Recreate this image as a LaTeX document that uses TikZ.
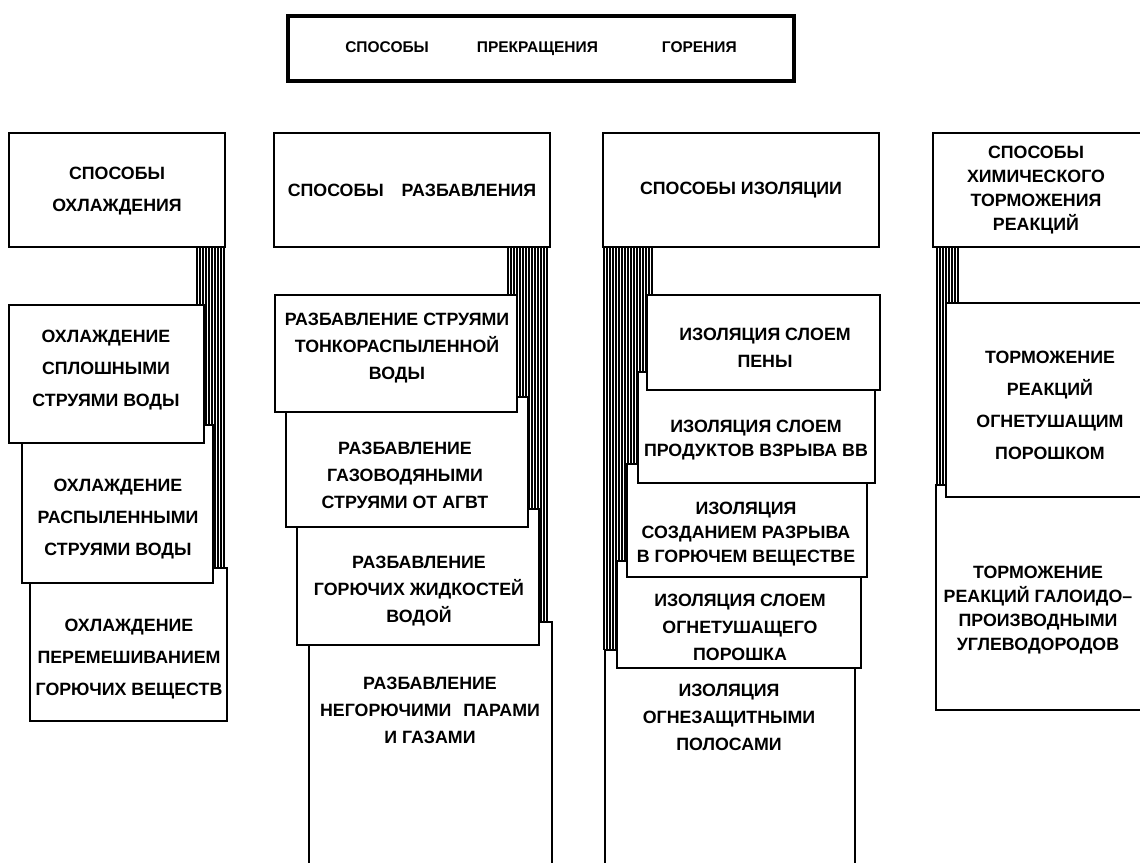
\documentclass[tikz,border=0pt]{standalone}
\usepackage{fontspec}
\setmainfont{Liberation Sans}

\tikzset{
  frame/.style={draw, fill=white, line width=1.6pt},
  lbl/.style={align=center, font=\fontsize{17.8}{27}\selectfont\bfseries},
  lbl wide/.style={lbl, font=\fontsize{17.8}{32}\selectfont\bfseries},
  lbl tight/.style={lbl, font=\fontsize{17.8}{24}\selectfont\bfseries},
  hatch/.style={line width=1.1pt},
}

\begin{document}
\begin{tikzpicture}[x=1pt, y=-1pt]
  \useasboundingbox (0,0) rectangle (1140,862);
  \clip (0,0) rectangle (1140,862);

  % striped bars behind the boxes
  \foreach \x in {197,200,...,224} \draw[hatch] (\x,247) -- (\x,568);
  \foreach \x in {508,511,...,549} \draw[hatch] (\x,247) -- (\x,622);
  \foreach \x in {604,607,...,654} \draw[hatch] (\x,247) -- (\x,650);
  \foreach \x in {937,940,...,960} \draw[hatch] (\x,247) -- (\x,485);

  % title
  \draw[line width=3.2pt] (288,16) rectangle (794,81);
  \node[lbl, font=\fontsize{15.5}{20}\selectfont\bfseries] (title) at (541,48.5)
    {СПОСОБЫ\hspace{48pt}ПРЕКРАЩЕНИЯ\hspace{64pt}ГОРЕНИЯ};

  % headers
  \draw[frame] (9,133) rectangle (225,247);
  \node[lbl wide] (cool) at (117,191) {СПОСОБЫ\\ОХЛАЖДЕНИЯ};
  \draw[frame] (274,133) rectangle (550,247);
  \node[lbl] (dilute) at (412,190) {СПОСОБЫ\hspace{18pt}РАЗБАВЛЕНИЯ};
  \draw[frame] (603,133) rectangle (879,247);
  \node[lbl] (isolate) at (741,190) {СПОСОБЫ ИЗОЛЯЦИИ};
  \draw[frame] (933,133) rectangle (1142,247);
  \node[lbl tight] (inhibit) at (1036,190.5) {СПОСОБЫ\\ХИМИЧЕСКОГО\\ТОРМОЖЕНИЯ\\РЕАКЦИЙ};

  % cooling
  \draw[frame] (30,568) rectangle (227,721);
  \node[lbl wide] (cool3) at (129,659) {ОХЛАЖДЕНИЕ\\ПЕРЕМЕШИВАНИЕМ\\ГОРЮЧИХ ВЕЩЕСТВ};
  \draw[frame] (22,425) rectangle (213,583);
  \node[lbl wide] (cool2) at (118,519) {ОХЛАЖДЕНИЕ\\РАСПЫЛЕННЫМИ\\СТРУЯМИ ВОДЫ};
  \draw[frame] (9,305) rectangle (204,443);
  \node[lbl wide] (cool1) at (106,370) {ОХЛАЖДЕНИЕ\\СПЛОШНЫМИ\\СТРУЯМИ ВОДЫ};

  % dilution
  \draw[frame] (309,622) rectangle (552,880);
  \node[lbl] (dil4) at (430,710) {РАЗБАВЛЕНИЕ\\НЕГОРЮЧИМИ\hspace{12pt}ПАРАМИ\\И ГАЗАМИ};
  \draw[frame] (297,509) rectangle (539,645);
  \node[lbl] (dil3) at (419,591) {РАЗБАВЛЕНИЕ\\ГОРЮЧИХ ЖИДКОСТЕЙ\\ВОДОЙ};
  \draw[frame] (286,397) rectangle (528,527);
  \node[lbl] (dil2) at (405,475) {РАЗБАВЛЕНИЕ\\ГАЗОВОДЯНЫМИ\\СТРУЯМИ ОТ АГВТ};
  \draw[frame] (275,295) rectangle (517,412);
  \node[lbl] (dil1) at (397,348) {РАЗБАВЛЕНИЕ СТРУЯМИ\\ТОНКОРАСПЫЛЕННОЙ\\ВОДЫ};

  % isolation
  \draw[frame] (605,650) rectangle (855,880);
  \node[lbl] (iso5) at (729,717) {ИЗОЛЯЦИЯ\\ОГНЕЗАЩИТНЫМИ\\ПОЛОСАМИ};
  \draw[frame] (617,561) rectangle (861,668);
  \node[lbl] (iso4) at (740,627) {ИЗОЛЯЦИЯ СЛОЕМ\\ОГНЕТУШАЩЕГО\\ПОРОШКА};
  \draw[frame] (627,464) rectangle (867,577);
  \node[lbl tight] (iso3) at (746,534) {ИЗОЛЯЦИЯ\\СОЗДАНИЕМ РАЗРЫВА\\В ГОРЮЧЕМ ВЕЩЕСТВЕ};
  \draw[frame] (638,372) rectangle (875,483);
  \node[lbl tight] (iso2) at (756,440) {ИЗОЛЯЦИЯ СЛОЕМ\\ПРОДУКТОВ ВЗРЫВА ВВ};
  \draw[frame] (647,295) rectangle (880,390);
  \node[lbl] (iso1) at (765,348) {ИЗОЛЯЦИЯ СЛОЕМ\\ПЕНЫ};

  % chemical inhibition
  \draw[frame] (936,485) rectangle (1150,710);
  \node[lbl tight] (inh2) at (1038,610) {ТОРМОЖЕНИЕ\\РЕАКЦИЙ ГАЛОИДО--\\ПРОИЗВОДНЫМИ\\УГЛЕВОДОРОДОВ};
  \draw[frame] (946,303) rectangle (1150,497);
  \node[lbl wide] (inh1) at (1050,405) {ТОРМОЖЕНИЕ\\РЕАКЦИЙ\\ОГНЕТУШАЩИМ\\ПОРОШКОМ};
\end{tikzpicture}
\end{document}
